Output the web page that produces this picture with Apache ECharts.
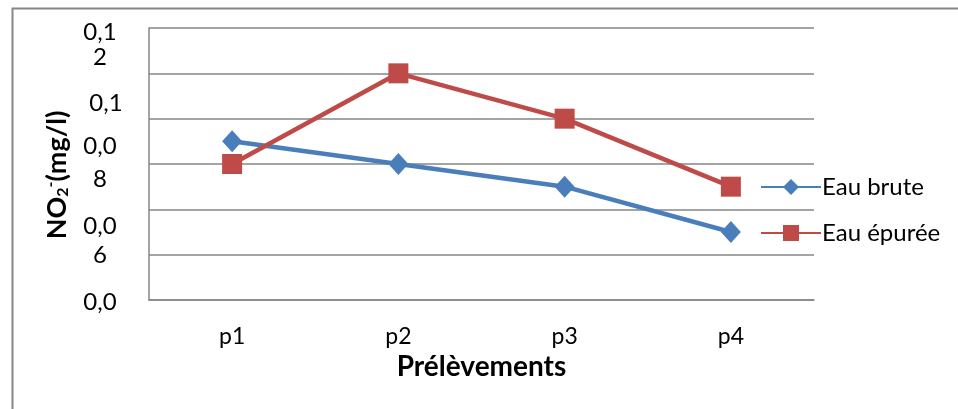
<!DOCTYPE html>
<html>
<head>
<meta charset="utf-8">
<script src="https://cdn.jsdelivr.net/npm/echarts@6/dist/echarts.min.js"></script>
<style>html,body{margin:0;padding:0;background:#fff}#c{width:958px;height:409px}</style>
</head>
<body>
<div id="c"></div>
<script>
var categories = ['p1', 'p2', 'p3', 'p4'];
var eauBrute = [0.07, 0.06, 0.05, 0.03];
var eauEpuree = [0.06, 0.10, 0.08, 0.05];
var seriesNames = ['Eau brute', 'Eau épurée'];
// tick labels as shown (wrapped) in the reference, split over two label layers
var yLabelsA = { '0.12': ['0,1', '2'], '0.08': ['0,0', '8'], '0.06': ['0,0', '6'], '0': ['0,0'] };
var yLabelsB = { '0.1': ['0,1'] };
var yLabelKeys = { '0.12': 'k12', '0.1': 'k10', '0.08': 'k08', '0.06': 'k06', '0': 'k00' };

var FONT = 'Lato';
var chart = echarts.init(document.getElementById('c'), null, { renderer: 'canvas' });

function makeFormatter(table) {
  return function (v) {
    var key = String(Math.round(v * 100) / 100);
    var lines = table[key];
    if (!lines) return '';
    var k = yLabelKeys[key];
    var out = '{s' + k + '| }';
    for (var i = 0; i < lines.length; i++) {
      out += '\n{' + k + '|' + lines[i] + '}';
    }
    return out;
  };
}

var rich = {};
function addRich(k, spacer, lh, padLeft) {
  rich['s' + k] = { fontSize: 1, lineHeight: spacer };
  rich[k] = { fontFamily: FONT, fontSize: 24, color: '#000', lineHeight: lh, padding: [0, 0, 0, padLeft || 0] };
}
addRich('k12', 33, 25, 0);
addRich('k10', 60, 24, 12);
addRich('k08', 89, 33, 0);
addRich('k06', 153, 29, 0);
addRich('k00', 4, 24, 0);

var option = {
  animation: false,
  backgroundColor: '#fff',
  graphic: [{
    type: 'rect', left: 10, top: 6, shape: { width: 980, height: 440 },
    style: { fill: 'none', stroke: '#878787', lineWidth: 2 }, silent: true, z: -1
  }],
  grid: { left: 149, right: 144, top: 28, bottom: 109 },
  legend: {
    orient: 'vertical', left: 755, top: 170, itemWidth: 60, itemHeight: 20, itemGap: 22,
    textStyle: { fontFamily: FONT, fontSize: 24, color: '#000', padding: [0, 0, 0, -4] },
    data: seriesNames
  },
  xAxis: {
    type: 'category', data: categories, boundaryGap: true,
    axisLine: { lineStyle: { color: '#868686', width: 1.5 } },
    axisTick: { show: false },
    axisLabel: { fontFamily: FONT, fontSize: 23, color: '#000', margin: 25 },
    name: 'Prélèvements', nameLocation: 'middle', nameGap: 44,
    nameTextStyle: { fontFamily: FONT, fontSize: 28, fontWeight: 'bold', color: '#000' }
  },
  yAxis: [{
    type: 'value', min: 0, max: 0.12, interval: 0.02,
    axisLine: { show: true, lineStyle: { color: '#868686', width: 1.5 } },
    axisTick: { show: false },
    splitLine: { lineStyle: { color: '#868686', width: 1.5 } },
    axisLabel: { formatter: makeFormatter(yLabelsA), rich: rich, align: 'center', margin: 49, showMinLabel: true, showMaxLabel: true },
    name: '{b|NO}{sub|2}{sup|-}{b|(mg/l)}{sp| }', nameLocation: 'middle', nameRotate: 90, nameGap: 78,
    nameTextStyle: {
      rich: {
        b: { fontFamily: FONT, fontSize: 27, fontWeight: 'bold', color: '#000' },
        sub: { fontFamily: FONT, fontSize: 16, fontWeight: 'bold', color: '#000', padding: [12, 0, 0, 0] },
        sup: { fontFamily: FONT, fontSize: 16, fontWeight: 'bold', color: '#000', padding: [0, 0, 12, 0] },
        sp: { fontSize: 10, width: 22 }
      }
    }
  }, {
    type: 'value', min: 0, max: 0.12, interval: 0.02, position: 'left',
    axisLine: { show: false }, axisTick: { show: false }, splitLine: { show: false },
    axisLabel: { formatter: makeFormatter(yLabelsB), rich: rich, align: 'center', margin: 49, showMinLabel: true, showMaxLabel: true }
  }],
  series: [{
    name: seriesNames[0], type: 'line', data: eauBrute, yAxisIndex: 0,
    symbol: 'diamond', symbolSize: [20, 22],
    lineStyle: { color: '#4A7EBB', width: 4.5 },
    itemStyle: { color: '#4A7EBB' }
  }, {
    name: seriesNames[1], type: 'line', data: eauEpuree, yAxisIndex: 0,
    symbol: 'rect', symbolSize: 20,
    lineStyle: { color: '#BE4B48', width: 4.5 },
    itemStyle: { color: '#BE4B48' }
  }]
};
chart.setOption(option);
</script>
</body>
</html>
